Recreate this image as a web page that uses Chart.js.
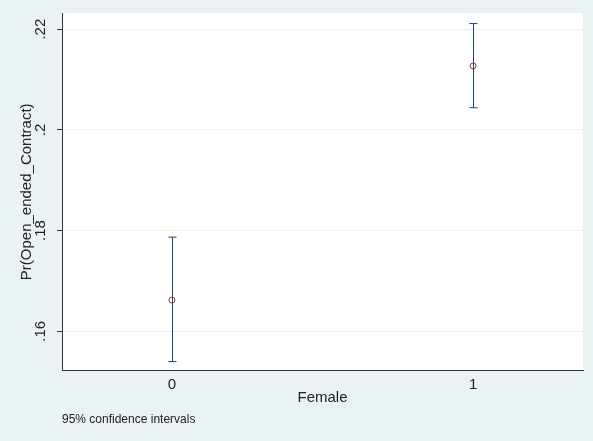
<!DOCTYPE html>
<html>
<head>
<meta charset="utf-8">
<script src="https://cdn.jsdelivr.net/npm/chart.js@4.4.1/dist/chart.umd.min.js"></script>
<style>
  html, body { margin: 0; padding: 0; background: #eaf2f3; }
  #wrap { width: 593px; height: 441px; }
</style>
</head>
<body>
<div id="wrap"><canvas id="myChart" width="593" height="441"></canvas></div>
<script>
'use strict';

var female = [0, 1];
var prMargin = [0.1662, 0.2127];
var ciLower = [0.1540, 0.2044];
var ciUpper = [0.1787, 0.2211];
var yTicks = [0.16, 0.18, 0.20, 0.22];
var yTickLabels = ['.16', '.18', '.2', '.22'];
var xTicks = [0, 1];

var plotBg = {
  id: 'plotBg',
  beforeDraw: function (chart) {
    var ctx = chart.ctx, a = chart.chartArea;
    ctx.save();
    ctx.fillStyle = '#eaf2f3';
    ctx.fillRect(0, 0, chart.width, chart.height);
    ctx.fillStyle = '#ffffff';
    ctx.fillRect(a.left, a.top, a.right - a.left, a.bottom - a.top);
    ctx.restore();
  }
};

// 95% CI spikes with caps
var ciBars = {
  id: 'ciBars',
  beforeDatasetsDraw: function (chart) {
    var ctx = chart.ctx;
    var xs = chart.scales.x, ys = chart.scales.y;
    ctx.save();
    ctx.strokeStyle = '#1a476f';
    ctx.lineWidth = 1;
    for (let i = 0; i < female.length; i++) {
      var px = Math.round(xs.getPixelForValue(female[i])) + 0.5;
      var lo = ys.getPixelForValue(ciLower[i]);
      var hi = ys.getPixelForValue(ciUpper[i]);
      ctx.beginPath();
      ctx.moveTo(px, lo);
      ctx.lineTo(px, hi);
      ctx.moveTo(px - 4, hi);
      ctx.lineTo(px + 4, hi);
      ctx.moveTo(px - 4, lo);
      ctx.lineTo(px + 4, lo);
      ctx.stroke();
    }
    ctx.restore();
  }
};

var points = female.map(function (f, i) { return { x: f, y: prMargin[i] }; });

var ctx = document.getElementById('myChart').getContext('2d');
var myChart = new Chart(ctx, {
  type: 'line',
  data: {
    datasets: [{
      label: 'Pr(Open_ended_Contract)',
      data: points,
      showLine: false,
      pointStyle: 'circle',
      pointRadius: 3,
      pointBorderWidth: 1,
      pointBorderColor: '#90353b',
      pointBackgroundColor: 'rgba(255,255,255,0)'
    }]
  },
  options: {
    responsive: false,
    animation: false,
    layout: { padding: { left: 18, right: 10, top: 13, bottom: 6 } },
    plugins: {
      legend: { display: false },
      tooltip: { enabled: false },
      title: {
        display: true,
        position: 'bottom',
        align: 'start',
        fullSize: false,
        text: '95% confidence intervals',
        color: '#222222',
        font: { family: 'Liberation Sans, Arial', size: 12, weight: 'normal' },
        padding: { top: 6, bottom: 8 }
      }
    },
    scales: {
      x: {
        type: 'linear',
        min: -0.365,
        max: 1.365,
        afterBuildTicks: function (axis) {
          axis.ticks = xTicks.map(function (v) { return { value: v }; });
        },
        ticks: {
          color: '#222222',
          font: { family: 'Liberation Sans, Arial', size: 15 },
          padding: 5,
          maxRotation: 0,
          callback: function (v) { return String(v); }
        },
        grid: { drawOnChartArea: false, drawTicks: false },
        border: { display: true, color: '#333333', width: 1 },
        title: {
          display: true,
          text: 'Female',
          color: '#222222',
          font: { family: 'Liberation Sans, Arial', size: 15 },
          padding: { top: -10, bottom: 0 }
        }
      },
      y: {
        type: 'linear',
        min: 0.1522,
        max: 0.2232,
        afterBuildTicks: function (axis) {
          axis.ticks = yTicks.map(function (v) { return { value: v }; });
        },
        // rotated labels should not push the plot top down
        afterFit: function (axis) {
          axis.paddingTop = 0;
          axis.paddingBottom = 0;
        },
        ticks: {
          color: '#222222',
          font: { family: 'Liberation Sans, Arial', size: 15 },
          minRotation: 90,
          maxRotation: 90,
          crossAlign: 'center',
          padding: 6,
          callback: function (v) {
            var k = yTicks.findIndex(function (t) { return Math.abs(t - v) < 1e-9; });
            return k >= 0 ? yTickLabels[k] : '';
          }
        },
        grid: { color: '#eef0f0', tickLength: 5, tickColor: '#333333' },
        border: { display: true, color: '#333333', width: 1 },
        title: {
          display: true,
          text: 'Pr(Open_ended_Contract)',
          color: '#222222',
          font: { family: 'Liberation Sans, Arial', size: 15 },
          padding: { top: 0, bottom: -9 }
        }
      }
    }
  },
  plugins: [plotBg, ciBars]
});
</script>
</body>
</html>
